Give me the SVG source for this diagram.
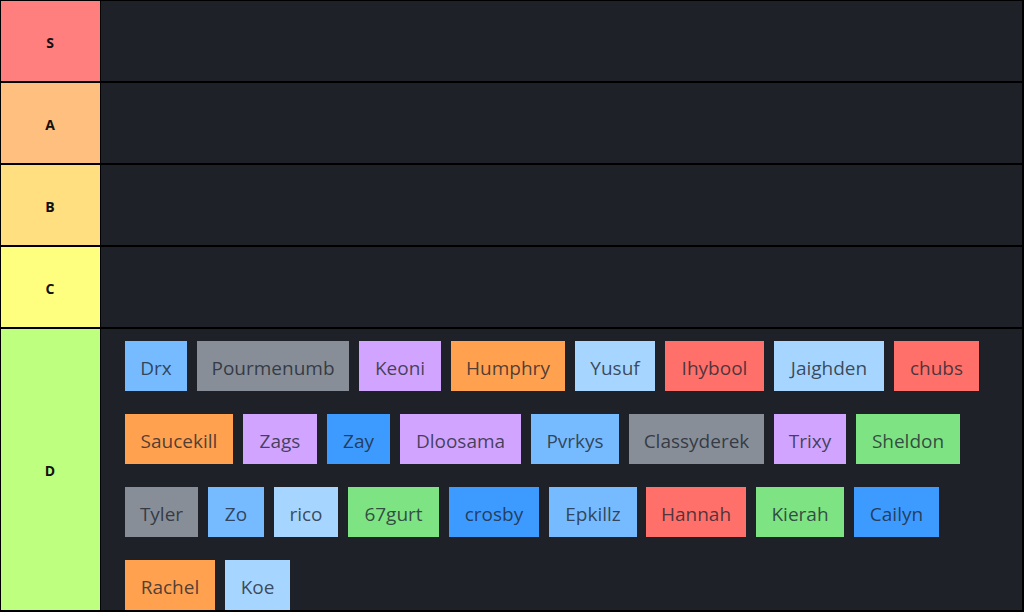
<svg xmlns="http://www.w3.org/2000/svg" width="1024" height="612" viewBox="0 0 1024 612">
<style>
.lbl{font-family:"Open Sans","Noto Sans","DejaVu Sans",sans-serif;font-weight:bold;font-size:14px;fill:#111;text-anchor:middle;dominant-baseline:central}
.row{fill:#1f2128}
.it text{font-family:"Open Sans","Noto Sans","DejaVu Sans",sans-serif;font-size:19px;fill:#1e2530;fill-opacity:0.8;text-anchor:middle;dominant-baseline:central}
.gr{fill:#878e97}.lb{fill:#76bbff}.xb{fill:#a6d6ff}.bl{fill:#3d9bff}.vi{fill:#d1a5ff}.or{fill:#ffa14f}.rd{fill:#ff706a}.gn{fill:#7de383}
</style>
<rect width="1024" height="612" fill="#000"/>
<g id="tier-S"><rect x="1" y="1" width="99" height="80" fill="#ff7f7f"/><rect class="row" x="101" y="1" width="921" height="80"/><text class="lbl" x="50" y="42">S</text></g>
<g id="tier-A"><rect x="1" y="83" width="99" height="80" fill="#ffbf7f"/><rect class="row" x="101" y="83" width="921" height="80"/><text class="lbl" x="50" y="124">A</text></g>
<g id="tier-B"><rect x="1" y="165" width="99" height="80" fill="#ffdf7f"/><rect class="row" x="101" y="165" width="921" height="80"/><text class="lbl" x="50" y="206">B</text></g>
<g id="tier-C"><rect x="1" y="247" width="99" height="80" fill="#ffff7f"/><rect class="row" x="101" y="247" width="921" height="80"/><text class="lbl" x="50" y="288">C</text></g>
<g id="tier-D"><rect x="1" y="329" width="99" height="281" fill="#bfff7f"/><rect class="row" x="101" y="329" width="921" height="281"/><text class="lbl" x="50" y="470">D</text></g>
<g id="items" class="it">
<g id="i-Drx"><rect class="lb" x="125" y="341" width="62" height="50"/><text x="156" y="368">Drx</text></g>
<g id="i-Pourmenumb"><rect class="gr" x="197" y="341" width="152" height="50"/><text x="273" y="368">Pourmenumb</text></g>
<g id="i-Keoni"><rect class="vi" x="359" y="341" width="82" height="50"/><text x="400" y="368">Keoni</text></g>
<g id="i-Humphry"><rect class="or" x="451" y="341" width="114" height="50"/><text x="508" y="368">Humphry</text></g>
<g id="i-Yusuf"><rect class="xb" x="575" y="341" width="80" height="50"/><text x="615" y="368">Yusuf</text></g>
<g id="i-Ihybool"><rect class="rd" x="665" y="341" width="99" height="50"/><text x="714.5" y="368">Ihybool</text></g>
<g id="i-Jaighden"><rect class="xb" x="774" y="341" width="110" height="50"/><text x="829" y="368">Jaighden</text></g>
<g id="i-chubs"><rect class="rd" x="894" y="341" width="85" height="50"/><text x="936.5" y="368">chubs</text></g>

<g id="i-Saucekill"><rect class="or" x="125" y="414" width="108" height="50"/><text x="179" y="441">Saucekill</text></g>
<g id="i-Zags"><rect class="vi" x="243" y="414" width="74" height="50"/><text x="280" y="441">Zags</text></g>
<g id="i-Zay"><rect class="bl" x="327" y="414" width="63" height="50"/><text x="358.5" y="441">Zay</text></g>
<g id="i-Dloosama"><rect class="vi" x="400" y="414" width="121" height="50"/><text x="460.5" y="441">Dloosama</text></g>
<g id="i-Pvrkys"><rect class="lb" x="531" y="414" width="88" height="50"/><text x="575" y="441">Pvrkys</text></g>
<g id="i-Classyderek"><rect class="gr" x="629" y="414" width="135" height="50"/><text x="696.5" y="441">Classyderek</text></g>
<g id="i-Trixy"><rect class="vi" x="774" y="414" width="72" height="50"/><text x="810" y="441">Trixy</text></g>
<g id="i-Sheldon"><rect class="gn" x="856" y="414" width="104" height="50"/><text x="908" y="441">Sheldon</text></g>

<g id="i-Tyler"><rect class="gr" x="125" y="487" width="73" height="50"/><text x="161.5" y="514">Tyler</text></g>
<g id="i-Zo"><rect class="lb" x="208" y="487" width="56" height="50"/><text x="236" y="514">Zo</text></g>
<g id="i-rico"><rect class="xb" x="274" y="487" width="64" height="50"/><text x="306" y="514">rico</text></g>
<g id="i-67gurt"><rect class="gn" x="348" y="487" width="91" height="50"/><text x="393.5" y="514">67gurt</text></g>
<g id="i-crosby"><rect class="bl" x="449" y="487" width="90" height="50"/><text x="494" y="514">crosby</text></g>
<g id="i-Epkillz"><rect class="lb" x="549" y="487" width="88" height="50"/><text x="593" y="514">Epkillz</text></g>
<g id="i-Hannah"><rect class="rd" x="646" y="487" width="100" height="50"/><text x="696" y="514">Hannah</text></g>
<g id="i-Kierah"><rect class="gn" x="756" y="487" width="88" height="50"/><text x="800" y="514">Kierah</text></g>
<g id="i-Cailyn"><rect class="bl" x="854" y="487" width="85" height="50"/><text x="896.5" y="514">Cailyn</text></g>

<g id="i-Rachel"><rect class="or" x="125" y="560" width="90" height="50"/><text x="170" y="587">Rachel</text></g>
<g id="i-Koe"><rect class="xb" x="225" y="560" width="65" height="50"/><text x="257.5" y="587">Koe</text></g>
</g>
<g id="connectors"/>
</svg>
